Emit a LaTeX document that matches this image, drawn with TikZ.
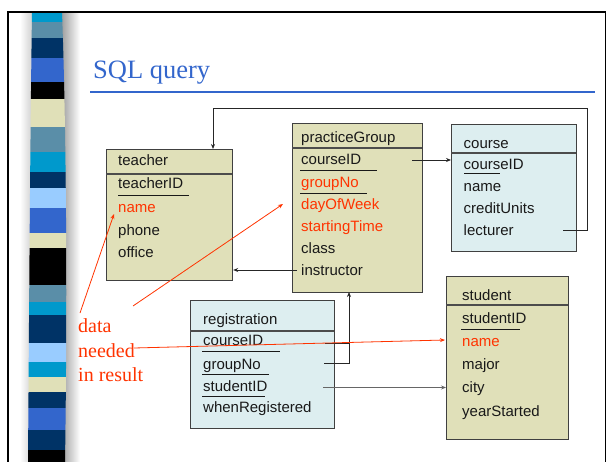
\documentclass[tikz,border=0pt]{standalone}
\usepackage{fontspec}
\setmainfont{Liberation Serif}
\setsansfont{Liberation Sans}
\usetikzlibrary{arrows.meta,calc}

\definecolor{boxbeige}{HTML}{E0E0B9}
\definecolor{boxcyan}{HTML}{DDEEF0}
\definecolor{titleblue}{HTML}{3366CC}
\definecolor{keyred}{HTML}{FF3300}
\definecolor{stcyan}{HTML}{0099CC}
\definecolor{ststeel}{HTML}{5A8EA8}
\definecolor{stnavy}{HTML}{003366}
\definecolor{stroyal}{HTML}{3366CC}
\definecolor{stbeige}{HTML}{E0E0B8}
\definecolor{stlight}{HTML}{99CCFF}

\tikzset{
  tablebox/.style={draw=black!75, line width=1.2pt, inner sep=0pt, anchor=north west},
  divider/.style={draw=black!70, line width=1.3pt},
  field/.style={font=\sffamily\fontsize{15}{18}\selectfont, text=black!90, anchor=base west, inner sep=0pt},
  keyfield/.style={field, text=keyred},
  keyline/.style={draw=black!90, line width=0.9pt},
  conn/.style={draw=black!85, line width=0.8pt},
  tip/.style={-{Stealth[length=5pt,width=4pt]}},
  redconn/.style={draw=keyred, line width=0.8pt, -{Stealth[length=5pt,width=4pt]}},
  note/.style={font=\fontsize{20}{24}\selectfont, text=keyred, anchor=base west, inner sep=0pt}
}

\begin{document}
\begin{tikzpicture}[x=1pt, y=-1pt]
\useasboundingbox (0,0) rectangle (607,462);

% striped side bar with its soft shadow
\shade[left color=black!45, right color=white] (58,12) rectangle (80,462);
\shade[left color=white, right color=black!18] (20,12) rectangle (32,462);
\begin{scope}
  \clip (32,12) .. controls (30,150) and (29,330) .. (28,462) -- (65,462)
        .. controls (67,330) and (67,150) .. (62,12) -- cycle;
  \foreach \ya/\yb/\c in {12/22/stcyan, 22/38/ststeel, 38/58/stnavy, 58/82/stroyal,
      82/99/black, 99/127/stbeige, 127/152/ststeel, 152/172/stcyan, 172/188/stnavy,
      188/208/stlight, 208/233/stroyal, 233/248/stbeige, 248/285/black,
      285/302/ststeel, 302/315/stcyan, 315/343/stnavy, 343/362/stlight,
      362/377/stcyan, 377/392/stbeige, 392/408/stnavy, 408/430/stroyal,
      430/450/stnavy, 450/462/black}
    \fill[\c] (20,\ya) rectangle (70,\yb);
\end{scope}

% slide frame
\draw[line width=1.5pt] (8,463) -- (8,12) -- (605.5,12) -- (605.5,463);

% title
\node[font=\fontsize{26.5}{30}\selectfont, text=titleblue, anchor=base west, inner sep=0pt]
  (title) at (93,79) {SQL query};
\draw[titleblue, line width=1.5pt] (90,92) -- (595,92);

% ---------- teacher ----------
\node[tablebox, fill=boxbeige, minimum width=126pt, minimum height=131pt] (teacher) at (106,149) {};
\draw[divider] (106,174) -- (232,174);
\node[field] (tHead) at (118,166) {teacher};
\node[field] (tId) at (118,188.5) {teacherID};
\draw[keyline] (118,195) -- (189,195);
\node[keyfield] (tName) at (118,213) {name};
\node[field] (tPhone) at (118,235.5) {phone};
\node[field] (tOffice) at (118,258) {office};

% ---------- practiceGroup ----------
\node[tablebox, fill=boxbeige, minimum width=130pt, minimum height=169pt] (pg) at (292,123) {};
\draw[divider] (292,148) -- (422,148);
\node[field] (pgHead) at (301,143) {practiceGroup};
\node[field] (pgCourse) at (301,165) {courseID};
\draw[keyline] (300,170.5) -- (377,170.5);
\node[keyfield] (pgGroup) at (301,188) {groupNo};
\draw[keyline] (300,193.5) -- (367,193.5);
\node[keyfield] (pgDay) at (301,209.5) {dayOfWeek};
\node[keyfield] (pgStart) at (301,231.5) {startingTime};
\node[field] (pgClass) at (301,253) {class};
\node[field] (pgInstr) at (301,275) {instructor};

% ---------- course ----------
\node[tablebox, fill=boxcyan, minimum width=125pt, minimum height=127pt] (course) at (451,124) {};
\draw[divider] (451,153) -- (576,153);
\node[field] (cHead) at (463.5,148.5) {course};
\node[field] (cId) at (463.5,170) {courseID};
\draw[keyline] (464,173.5) -- (500,173.5);
\node[field] (cName) at (463.5,191.5) {name};
\node[field] (cUnits) at (463.5,213.5) {creditUnits};
\node[field] (cLect) at (463.5,235.5) {lecturer};

% ---------- student ----------
\node[tablebox, fill=boxbeige, minimum width=122pt, minimum height=163pt] (student) at (446,276) {};
\draw[divider] (446,305) -- (568,305);
\node[field] (sHead) at (462,300) {student};
\node[field] (sId) at (462,323.5) {studentID};
\draw[keyline] (461,329.5) -- (520,329.5);
\node[keyfield] (sName) at (462,346) {name};
\node[field] (sMajor) at (462,369.5) {major};
\node[field] (sCity) at (462,392.5) {city};
\node[field] (sYear) at (462,416) {yearStarted};

% ---------- registration ----------
\node[tablebox, fill=boxcyan, minimum width=144pt, minimum height=128pt] (reg) at (190,300) {};
\draw[divider] (190,331) -- (334,331);
\node[field] (rHead) at (203,324.5) {registration};
\node[field] (rCourse) at (203,345) {courseID};
\draw[keyline] (202,351) -- (280,351);
\node[field] (rGroup) at (203,369.5) {groupNo};
\draw[keyline] (202,374.5) -- (269,374.5);
\node[field] (rStud) at (203,391) {studentID};
\draw[keyline] (202,396.5) -- (265,396.5);
\node[field] (rWhen) at (203,412.5) {whenRegistered};

% ---------- foreign key connectors ----------
\coordinate (pgC) at (412,160);
\draw[conn, tip] (pgC) -- (pgC -| course.west);

\coordinate (lecS) at (563,230);
\coordinate (loopR) at (587,108);
\coordinate (tIn) at (213,149);
\draw[conn, tip] (lecS) -| (loopR) -| (tIn);

\coordinate (insS) at (297,270);
\draw[conn, tip] (insS) -- (insS -| teacher.east);

\coordinate (rgS) at (324,363.5);
\coordinate (pgIn) at (349,292);
\draw[conn, tip] (rgS) -| (pgIn);
\coordinate (rcS) at (325,343);
\draw[conn] (rcS) -- (rcS -| pgIn);

\coordinate (rsS) at (323,387.5);
\draw[conn, draw=black!60, tip] (rsS) -- (rsS -| student.west);

% ---------- note and its pointers ----------
\node[note] (note1) at (78,332) {data};
\node[note] (note2) at (78,357) {needed};
\node[note] (note3) at (78,381) {in result};

\coordinate (n1) at (80,313);
\coordinate (tNameIn) at (114,214);
\draw[redconn] (n1) -- (tNameIn);
\coordinate (n2) at (133,306);
\coordinate (pgDayIn) at (283,204);
\draw[redconn] (n2) -- (pgDayIn);
\coordinate (n3) at (134,348);
\coordinate (sNameIn) at (445,340);
\draw[redconn] (n3) -- (sNameIn);
\end{tikzpicture}
\end{document}
